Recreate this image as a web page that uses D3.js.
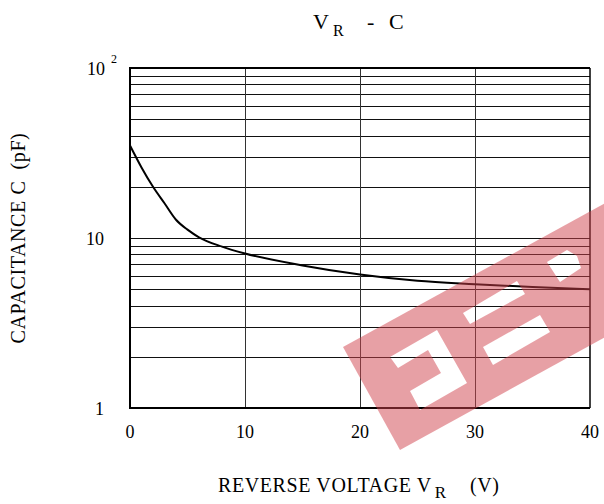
<!DOCTYPE html>
<html>
<head>
<meta charset="utf-8">
<script src="https://cdn.jsdelivr.net/npm/d3@7/dist/d3.min.js"></script>
<style>
  body { margin: 0; background: #fff; }
  svg { display: block; font-family: "Liberation Serif", "DejaVu Serif", serif; }
</style>
</head>
<body>
<div id="chart"></div>
<script>
// reverse voltage (V) and capacitance (pF)
var voltage = [0, 1, 2, 3, 4, 5, 6, 8, 10, 15, 20, 25, 30, 35, 40];
var capacitance = [35, 26, 20, 16, 12.8, 11.2, 10.1, 8.9, 8.1, 6.9, 6.1, 5.6, 5.35, 5.15, 5.0];

var xTicks = [0, 10, 20, 30, 40];
var yTicks = [1, 10, 100];
var yTickLabels = ["1", "10", "10"];

var width = 604, height = 504;
var mLeft = 130, mRight = 590, mTop = 68, mBottom = 408;

var svg = d3.select('#chart').append('svg')
  .attr('width', width)
  .attr('height', height);

var x = d3.scaleLinear().domain([0, 40]).range([mLeft, mRight]);
var y = d3.scaleLog().domain([1, 100]).range([mBottom, mTop]);

// log grid: 1..9 in each decade
var minor = [];
[1, 10].forEach(function (d) {
  for (var i = 1; i <= 9; i++) minor.push(d * i);
});
minor.push(100);

svg.append('g').selectAll('line').data(minor).enter().append('line')
  .attr('x1', mLeft).attr('x2', mRight)
  .attr('y1', function (d) { return Math.round(y(d)) + 0.5; })
  .attr('y2', function (d) { return Math.round(y(d)) + 0.5; })
  .attr('stroke', '#111')
  .attr('stroke-width', 1);

svg.append('g').selectAll('line').data(xTicks.slice(1, -1)).enter().append('line')
  .attr('x1', function (d) { return Math.round(x(d)) + 0.5; })
  .attr('x2', function (d) { return Math.round(x(d)) + 0.5; })
  .attr('y1', mTop).attr('y2', mBottom)
  .attr('stroke', '#333')
  .attr('stroke-width', 1);

// frame
svg.append('line').attr('x1', mLeft).attr('x2', mLeft).attr('y1', mTop - 1).attr('y2', mBottom + 1)
  .attr('stroke', '#000').attr('stroke-width', 2);
svg.append('line').attr('x1', mLeft - 1).attr('x2', mRight).attr('y1', mBottom).attr('y2', mBottom)
  .attr('stroke', '#000').attr('stroke-width', 2);
svg.append('line').attr('x1', mLeft - 1).attr('x2', mRight).attr('y1', mTop).attr('y2', mTop)
  .attr('stroke', '#000').attr('stroke-width', 2);
svg.append('line').attr('x1', mRight).attr('x2', mRight).attr('y1', mTop).attr('y2', mBottom)
  .attr('stroke', '#000').attr('stroke-width', 1.5);

// curve
var line = d3.line()
  .x(function (d, i) { return x(voltage[i]); })
  .y(function (d) { return y(d); })
  .curve(d3.curveMonotoneX);

svg.append('path')
  .datum(capacitance)
  .attr('d', line)
  .attr('fill', 'none')
  .attr('stroke', '#000')
  .attr('stroke-width', 2);

// watermark band with logo cut out
var defs = svg.append('defs');
var mask = defs.append('mask').attr('id', 'logo');
mask.append('rect').attr('width', width).attr('height', height).attr('fill', '#fff');
var holes = [
  [[390, 357], [437, 330], [467, 383], [420, 410], [410, 391], [441, 373], [428, 350], [398, 368]],
  [[463, 313], [517, 281], [525, 294], [470, 324]],
  [[483, 347], [540, 315], [550, 332], [493, 365]],
  [[547, 262], [567, 250], [577, 256], [581, 268], [560, 282]]
];
mask.selectAll('polygon').data(holes).enter().append('polygon')
  .attr('points', function (d) { return d.join(' '); })
  .attr('fill', '#000');

svg.append('polygon')
  .attr('points', [[343, 347], [640, 184], [700, 285], [400, 450]].join(' '))
  .attr('fill', 'rgb(209,67,77)')
  .attr('opacity', 0.5)
  .attr('mask', 'url(#logo)');

// tick labels
svg.append('g').selectAll('text').data(xTicks).enter().append('text')
  .attr('x', function (d) { return x(d); })
  .attr('y', 438)
  .attr('text-anchor', 'middle')
  .attr('font-size', 18)
  .text(function (d) { return d; });

svg.append('g').selectAll('text').data(yTicks).enter().append('text')
  .attr('x', function (d) { return d === 100 ? 105 : 104; })
  .attr('y', function (d) { return y(d) + 7; })
  .attr('text-anchor', 'end')
  .attr('font-size', 18)
  .text(function (d, i) { return yTickLabels[i]; });
svg.append('text')
  .attr('x', 111).attr('y', y(100) - 5)
  .attr('font-size', 12)
  .text('2');

// title
var title = svg.append('g').attr('font-size', 22);
title.append('text').attr('x', 313).attr('y', 29).text('V');
title.append('text').attr('x', 333).attr('y', 36).attr('font-size', 16).text('R');
title.append('text').attr('x', 367).attr('y', 29).text('-');
title.append('text').attr('x', 389).attr('y', 29).text('C');

// axis titles
var xt = svg.append('text')
  .attr('x', 218).attr('y', 492)
  .attr('font-size', 20)
  .attr('letter-spacing', 0.6);
xt.append('tspan').text('REVERSE VOLTAGE V');
xt.append('tspan').attr('dx', 3).attr('dy', 6).attr('font-size', 17).text('R');
xt.append('tspan').attr('x', 470).attr('dy', -6).text('(V)');

svg.append('text')
  .attr('transform', 'translate(25,238) rotate(-90)')
  .attr('text-anchor', 'middle')
  .attr('font-size', 20)
  .attr('letter-spacing', 0.6)
  .attr('xml:space', 'preserve')
  .text('CAPACITANCE C  (pF)');
</script>
</body>
</html>
